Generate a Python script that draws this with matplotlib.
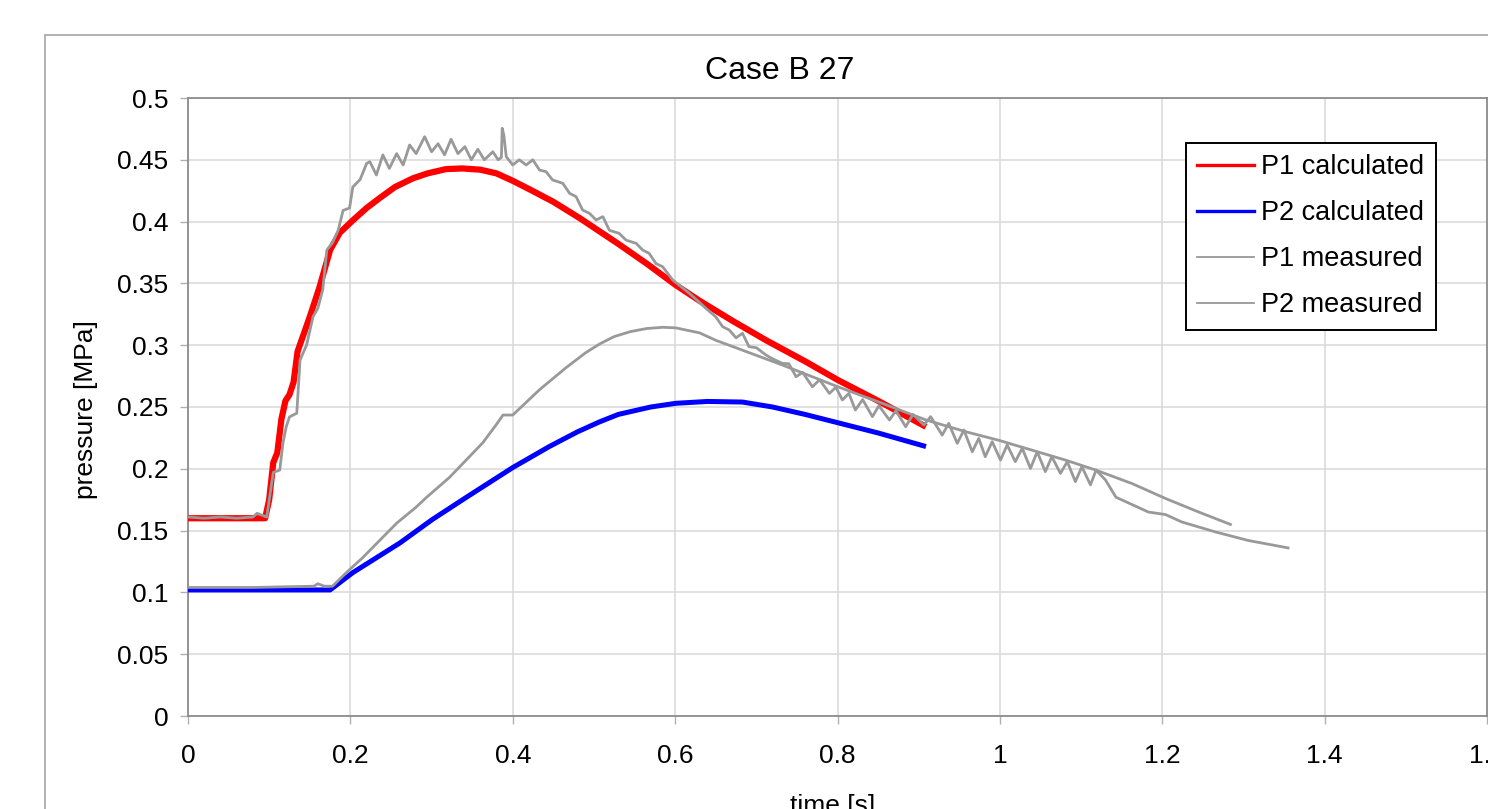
import matplotlib
matplotlib.use("Agg")
import matplotlib.pyplot as plt
from matplotlib.lines import Line2D
from matplotlib.patches import Rectangle
from matplotlib.ticker import FuncFormatter, MultipleLocator

plt.rcParams['font.family'] = ['Liberation Sans', 'DejaVu Sans']

# ---------------- data ----------------
p1_calc_t = [0.0, 0.095, 0.10, 0.105, 0.11, 0.115, 0.12, 0.125, 0.13, 0.135, 0.15, 0.162,
             0.175, 0.187, 0.203, 0.22, 0.236, 0.255, 0.277, 0.295, 0.318, 0.338, 0.36, 0.38,
             0.40, 0.421, 0.45, 0.482, 0.530, 0.565, 0.60, 0.63, 0.67, 0.712, 0.76, 0.80, 0.85,
             0.909]
p1_calc_p = [0.160, 0.160, 0.175, 0.205, 0.213, 0.240, 0.255, 0.260, 0.270, 0.295, 0.323, 0.347,
             0.377, 0.391, 0.401, 0.411, 0.419, 0.428, 0.435, 0.439, 0.4425, 0.443, 0.442, 0.439,
             0.433, 0.426, 0.416, 0.403, 0.382, 0.366, 0.349, 0.336, 0.320, 0.304, 0.287, 0.272, 0.255,
             0.234]

p2_calc_t = [0.0, 0.175, 0.203, 0.261, 0.301, 0.343, 0.40, 0.445, 0.48, 0.507, 0.53, 0.57, 0.601,
             0.64, 0.683, 0.72, 0.76, 0.802, 0.85, 0.909]
p2_calc_p = [0.102, 0.102, 0.116, 0.140, 0.159, 0.177, 0.201, 0.218, 0.230, 0.238, 0.244, 0.250,
             0.253, 0.2545, 0.254, 0.250, 0.244, 0.237, 0.229, 0.218]

p1_meas_t = [0.0, 0.02, 0.04, 0.06, 0.08, 0.085, 0.097, 0.105, 0.113, 0.117, 0.121, 0.125, 0.134,
             0.138, 0.146, 0.154, 0.160, 0.166, 0.171, 0.178, 0.185, 0.191, 0.199, 0.203, 0.212,
             0.220, 0.224, 0.232, 0.240, 0.248, 0.257, 0.265, 0.273, 0.281, 0.2915, 0.300, 0.308,
             0.316, 0.324, 0.3325, 0.341, 0.349, 0.357, 0.365, 0.3755, 0.382, 0.386, 0.387, 0.389,
             0.392, 0.400, 0.408, 0.4166, 0.4247, 0.433, 0.441, 0.449, 0.4616, 0.470, 0.478, 0.486,
             0.4945, 0.5027, 0.511, 0.519, 0.531, 0.5396, 0.552, 0.560, 0.568, 0.5765, 0.5846,
             0.597, 0.6175, 0.638, 0.650, 0.6585, 0.6667, 0.675, 0.683, 0.691, 0.700, 0.712, 0.720,
             0.732, 0.740, 0.749, 0.757, 0.769, 0.778, 0.790, 0.798, 0.806, 0.814, 0.822, 0.831,
             0.843, 0.851, 0.864, 0.872, 0.884, 0.893, 0.9065, 0.9147, 0.929, 0.937, 0.9475,
             0.9557, 0.966, 0.974, 0.982, 0.9905, 1.0008, 1.009, 1.019, 1.0275, 1.0377, 1.046,
             1.056, 1.064, 1.0746, 1.083, 1.093, 1.101, 1.1116, 1.1185, 1.130, 1.143, 1.163,
             1.183, 1.204, 1.224, 1.265, 1.306, 1.355]
p1_meas_p = [0.161, 0.160, 0.161, 0.160, 0.161, 0.164, 0.161, 0.197, 0.199, 0.221, 0.234, 0.242, 0.245,
             0.288, 0.300, 0.323, 0.330, 0.345, 0.377, 0.383, 0.393, 0.409, 0.411, 0.428, 0.434,
             0.447, 0.4485, 0.4377, 0.454, 0.443, 0.455, 0.4458, 0.462, 0.455, 0.4687, 0.4565, 0.463,
             0.454, 0.4666, 0.455, 0.4606, 0.450, 0.4585, 0.450, 0.4565, 0.450, 0.452, 0.4755, 0.470,
             0.4525, 0.4458, 0.450, 0.4458, 0.450, 0.4417, 0.4404, 0.4337, 0.431, 0.4229, 0.4202, 0.4094,
             0.4067, 0.4013, 0.404, 0.393, 0.3905, 0.385, 0.3824, 0.377, 0.3743, 0.366, 0.3635,
             0.3528, 0.342, 0.3298, 0.323, 0.315, 0.3123, 0.306, 0.3096, 0.2988, 0.298, 0.292, 0.289,
             0.2853, 0.285, 0.2745, 0.278, 0.2664, 0.272, 0.261, 0.266, 0.2557, 0.261, 0.2476, 0.256,
             0.2422, 0.251, 0.2395, 0.247, 0.234, 0.244, 0.2354, 0.2422, 0.2273, 0.2368, 0.2206,
             0.2314, 0.2138, 0.2246, 0.2098, 0.2219, 0.2071, 0.2193, 0.2058, 0.2166, 0.2003, 0.2138,
             0.1977, 0.2098, 0.1963, 0.2058, 0.1896, 0.2017, 0.187, 0.199, 0.191, 0.177, 0.171,
             0.165, 0.163, 0.157, 0.149, 0.142, 0.136]

p2_meas_t = [0.0, 0.08, 0.155, 0.16, 0.168, 0.178, 0.195, 0.215, 0.236, 0.257, 0.281, 0.294, 0.322,
             0.363, 0.38, 0.388, 0.40, 0.433, 0.466, 0.49, 0.507, 0.525, 0.545, 0.565, 0.585, 0.601,
             0.63, 0.65, 0.691, 0.732, 0.802, 0.855, 0.909, 0.958, 0.999, 1.04, 1.081, 1.118, 1.163,
             1.204, 1.245, 1.284]
p2_meas_p = [0.104, 0.104, 0.105, 0.107, 0.105, 0.105, 0.116, 0.128, 0.142, 0.156, 0.169, 0.177, 0.193,
             0.221, 0.236, 0.2435, 0.2435, 0.264, 0.282, 0.294, 0.301, 0.307, 0.311, 0.3135, 0.3145, 0.314,
             0.310, 0.304, 0.294, 0.284, 0.266, 0.253, 0.2395, 0.230, 0.223, 0.215, 0.207, 0.199, 0.188,
             0.176, 0.165, 0.155]

labels = ["P1 calculated", "P2 calculated", "P1 measured", "P2 measured"]
x_ticks = [0, 0.2, 0.4, 0.6, 0.8, 1.0, 1.2, 1.4, 1.6]

# ---------------- figure ----------------
W, H = 1488, 809
fig = plt.figure(figsize=(W / 100, H / 100), dpi=100)
fig.patch.set_facecolor('white')

# outer chart frame
fig.patches.append(Rectangle((45 / W, -0.1), 1.2, 1 - 35 / H + 0.1, transform=fig.transFigure,
                             fill=False, edgecolor='#a6a6a6', linewidth=1.2))

ax = fig.add_axes([188 / W, (H - 716) / H, (1487 - 188) / W, (716 - 98) / H])
ax.set_xlim(0, 1.6)
ax.set_ylim(0, 0.5)

grey = '#999999'
ax.plot(p1_calc_t, p1_calc_p, color='#ff0000', lw=4.5, solid_capstyle='butt', zorder=3)
ax.plot(p2_calc_t, p2_calc_p, color='#0000ff', lw=3.6, solid_capstyle='butt', zorder=3)
ax.plot(p1_meas_t, p1_meas_p, color=grey, lw=2.0, zorder=4)
ax.plot(p2_meas_t, p2_meas_p, color=grey, lw=2.0, zorder=4)

ax.set_xticks(x_ticks)
ax.yaxis.set_major_locator(MultipleLocator(0.05))
fmt = FuncFormatter(lambda v, pos: ('%g' % round(v, 3)))
ax.xaxis.set_major_formatter(fmt)
ax.yaxis.set_major_formatter(fmt)
ax.grid(True, color='#d9d9d9', lw=1.1)
ax.set_axisbelow(True)
for s in ax.spines.values():
    s.set_color('#8c8c8c')
    s.set_linewidth(1.3)
ax.tick_params(direction='out', length=6, width=1.0, color='#b0b0b0',
               labelsize=19, labelcolor='black')
ax.tick_params(axis='x', pad=14)
ax.tick_params(axis='y', pad=8)

fig.text(780 / W, 1 - 71 / H, "Case B 27", fontsize=23, ha='center', va='center')
fig.text(86 / W, 1 - 410 / H, "pressure [MPa]", fontsize=19, rotation=90,
         ha='center', va='center')
fig.text(833 / W, 1 - 806 / H, "time [s]", fontsize=19, ha='center', va='center')

handles = [Line2D([], [], color='#ff0000', lw=2.4),
           Line2D([], [], color='#0000ff', lw=2.4),
           Line2D([], [], color=grey, lw=1.3),
           Line2D([], [], color=grey, lw=1.3)]
leg = fig.legend(handles, labels, loc='upper left', bbox_to_anchor=(1186 / W, 1 - 143 / H),
                 bbox_transform=fig.transFigure, borderaxespad=0, fontsize=19.5,
                 frameon=True, fancybox=False, shadow=False, handlelength=2.1,
                 handletextpad=0.25, labelspacing=0.74, borderpad=0.42)
leg.get_frame().set_edgecolor('black')
leg.get_frame().set_linewidth(1.4)
leg.get_frame().set_alpha(1)

fig.savefig("out.png", dpi=100)
